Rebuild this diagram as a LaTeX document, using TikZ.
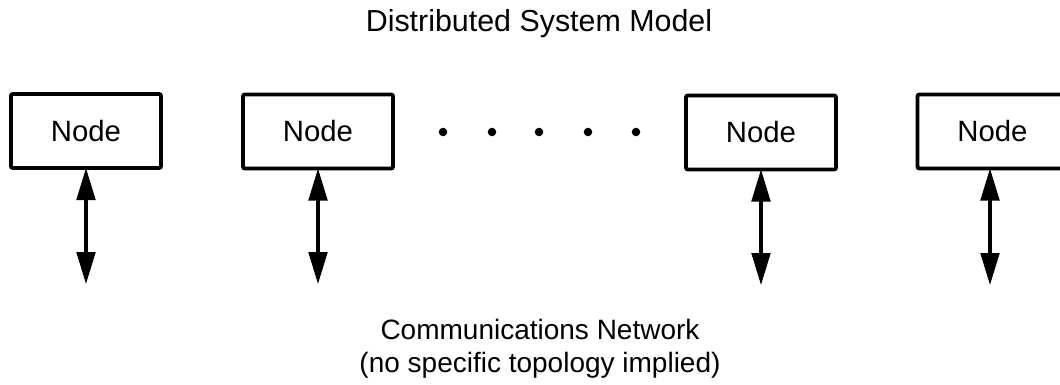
\documentclass[tikz,border=0pt]{standalone}
\usepackage{fontspec}
\setmainfont{Liberation Sans}
\usetikzlibrary{arrows.meta}
\begin{document}
\begin{tikzpicture}[x=0.75pt,y=-0.75pt,
  nodebox/.style={draw,line width=2.9pt,rounded corners=1.5pt,minimum width=112.5pt,minimum height=55.5pt,inner sep=0pt,outer sep=0pt,font=\fontsize{22pt}{26pt}\selectfont},
  link/.style={line width=2.3pt,{Triangle[length=24pt,width=14pt]}-{Triangle[length=24pt,width=14pt]}},
  dot/.style={circle,fill,inner sep=0pt,minimum size=6.4pt},
  label/.style={font=\fontsize{21pt}{24.75pt}\selectfont,inner sep=0pt,align=center}]
\useasboundingbox (0,0) rectangle (1060,385);
\node[label,font=\fontsize{22.8pt}{26pt}\selectfont,anchor=base] (title) at (539,32) {Distributed System Model};
\node[nodebox] (n1) at (86,131) {Node};
\node[nodebox] (n2) at (318,131.5) {Node};
\node[nodebox] (n3) at (761,132.5) {Node};
\node[nodebox] (n4) at (992.5,131.5) {Node};
\foreach \i/\x in {1/443,2/492,3/539,4/588,5/636}
  \node[dot] (d\i) at (\x,132) {};
\coordinate (e1) at (86,284);
\coordinate (e2) at (318,284);
\coordinate (e3) at (761,285);
\coordinate (e4) at (990,285);
\draw[link] (n1.south) -- (e1);
\draw[link] (n2.south) -- (e2);
\draw[link] (n3.south) -- (e3);
\draw[link] (n4.south -| e4) -- (e4);
\node[label,anchor=base] (net) at (540,372) {Communications Network\\(no specific topology implied)};
\end{tikzpicture}
\end{document}
